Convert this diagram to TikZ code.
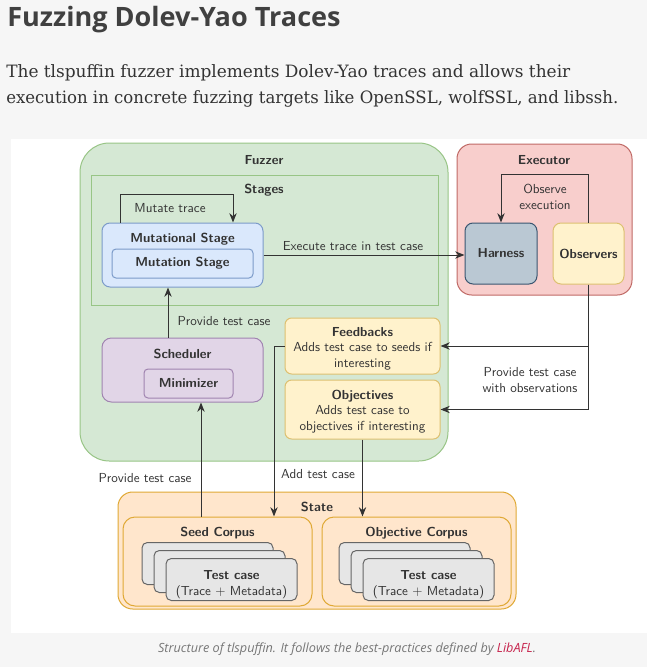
\documentclass[tikz,border=0pt]{standalone}
\usepackage{fontspec}
\usepackage{graphicx}
\usetikzlibrary{arrows.meta}
\newfontfamily\headfont{Open Sans}
\newfontfamily\bodyfont{DejaVu Serif}
\newcommand\figfont{\sffamily\fontsize{9.8}{11.6}\selectfont}

\definecolor{pagebg}{HTML}{F6F6F6}
\definecolor{headc}{HTML}{404040}
\definecolor{bodyc}{HTML}{333333}
\definecolor{capc}{HTML}{777777}
\definecolor{linkc}{HTML}{C7254E}
\definecolor{ink}{HTML}{333333}
\definecolor{fuzzfill}{HTML}{D5E8D4}
\definecolor{fuzzline}{HTML}{98C586}
\definecolor{execfill}{HTML}{F8CECC}
\definecolor{execline}{HTML}{C06A66}
\definecolor{mutfill}{HTML}{DAE8FC}
\definecolor{mutline}{HTML}{7C9BC9}
\definecolor{schedfill}{HTML}{E1D5E7}
\definecolor{schedline}{HTML}{A084B0}
\definecolor{yelfill}{HTML}{FFF2CC}
\definecolor{yelline}{HTML}{DDC070}
\definecolor{statefill}{HTML}{FFE6CC}
\definecolor{stateline}{HTML}{E0A935}
\definecolor{harnfill}{HTML}{BAC8D3}
\definecolor{harnline}{HTML}{3A5670}
\definecolor{cardfill}{HTML}{E6E6E6}
\definecolor{cardline}{HTML}{666666}

\tikzset{
  sz/.style 2 args={minimum width=#1*0.75pt, minimum height=#2*0.75pt},
  box/.style={draw, line width=0.75pt, inner sep=0pt},
  ttl/.style={font=\figfont\bfseries, text=ink, inner sep=0pt},
  txt/.style={font=\figfont, text=ink, inner sep=0pt, align=center},
  card/.style={box, draw=cardline, fill=cardfill, rounded corners=4pt, sz={131}{42}},
  arr/.style={draw=ink, line width=0.75pt, -{Stealth[length=7pt, width=5.5pt]}}
}

\begin{document}
\begin{tikzpicture}[x=0.75pt, y=-0.75pt]
    \useasboundingbox (0,0) rectangle (647,667);
    % Seite
    \fill[pagebg] (0,0) rectangle (647,667);
    \fill[white] (11,139) rectangle (647,633);

    % Ueberschrift und Text
    \node[anchor=base west, inner sep=0pt, text=headc, font=\headfont\bfseries\fontsize{20}{24}\selectfont] (heading) at (7,27)
        {\resizebox{250pt}{\height}{Fuzzing Dolev-Yao Traces}};
    \node[anchor=base west, inner sep=0pt, text=bodyc, font=\bodyfont\fontsize{12.75}{16}\selectfont] (introA) at (6,77)
        {\resizebox{423pt}{\height}{The tlspuffin fuzzer implements Dolev-Yao traces and allows their}};
    \node[anchor=base west, inner sep=0pt, text=bodyc, font=\bodyfont\fontsize{12.75}{16}\selectfont] (introB) at (6,103)
        {\resizebox{459pt}{\height}{execution in concrete fuzzing targets like OpenSSL, wolfSSL, and libssh.}};

    % Fuzzer
    \node[box, draw=fuzzline, fill=fuzzfill, rounded corners=22pt, sz={368}{318}] (fuzzer) at (264,302) {};
    \node[ttl] (fuzzerT) at (264,160) {Fuzzer};
    \node[box, draw=fuzzline, fill=fuzzfill, sz={347}{130}] (stages) at (264.5,240) {};
    \node[ttl] (stagesT) at (264,190) {Stages};
    \node[box, draw=mutline, fill=mutfill, rounded corners=6pt, sz={161}{64}] (mutational) at (182.5,255) {};
    \node[ttl] (mutationalT) at (182.5,239) {Mutational Stage};
    \node[box, draw=mutline, fill=mutfill, rounded corners=3pt, sz={141}{29}, font=\figfont\bfseries, text=ink] (mutation) at (182.5,263.5) {Mutation Stage};

    \node[box, draw=schedline, fill=schedfill, rounded corners=7pt, sz={161}{64}] (scheduler) at (182.5,370) {};
    \node[ttl] (schedulerT) at (182.5,354) {Scheduler};
    \node[box, draw=schedline, fill=schedfill, rounded corners=3pt, sz={89}{29}, font=\figfont\bfseries, text=ink] (minimizer) at (188.5,383.5) {Minimizer};

    \node[box, draw=yelline, fill=yelfill, rounded corners=5pt, sz={155}{56}] (feedbacks) at (362.5,346) {};
    \node[txt] (feedbacksT) at ([yshift=-2pt]feedbacks.center) {\textbf{Feedbacks}\\Adds test case to seeds if\\interesting};
    \node[box, draw=yelline, fill=yelfill, rounded corners=5pt, sz={155}{59}] (objectives) at (362.5,409.5) {};
    \node[txt] (objectivesT) at ([yshift=-1.5pt]objectives.center) {\textbf{Objectives}\\Adds test case to\\objectives if interesting};

    % Executor
    \node[box, draw=execline, fill=execfill, rounded corners=11pt, sz={175}{151}] (executor) at (544.5,219.5) {};
    \node[ttl] (executorT) at (544,160) {Executor};
    \node[box, draw=harnline, fill=harnfill, rounded corners=6pt, sz={72}{61}, font=\figfont\bfseries, text=ink] (harness) at (501,253.5) {Harness};
    \node[box, draw=yelline, fill=yelfill, rounded corners=6pt, sz={71}{61}, font=\figfont\bfseries, text=ink] (observers) at (588.5,253.5) {Observers};

    % State
    \node[box, draw=stateline, fill=statefill, rounded corners=11pt, sz={398}{117}] (state) at (317,550.5) {};
    \node[ttl] (stateT) at (317,507) {State};
    \node[box, draw=stateline, fill=statefill, rounded corners=9pt, sz={189}{89}] (seedcorpus) at (217.5,561.5) {};
    \node[ttl] (seedcorpusT) at (217.5,533) {Seed Corpus};
    \node[box, draw=stateline, fill=statefill, rounded corners=9pt, sz={189}{89}] (objcorpus) at (416.5,561.5) {};
    \node[ttl] (objcorpusT) at (416.5,533) {Objective Corpus};
    \foreach \i in {0,1,2} {
        \node[card] (seedcard\i) at (207.5+12*\i,563.5+8*\i) {};
        \node[card] (objcard\i) at (404.5+12*\i,563.5+8*\i) {};
    }
    \node[txt] at ([yshift=-4pt]seedcard2.center) {\textbf{Test case}\\(Trace + Metadata)};
    \node[txt] at ([yshift=-4pt]objcard2.center) {\textbf{Test case}\\(Trace + Metadata)};

    % Verbindungen
    \draw[arr] (120,0 |- mutational.north) -- ++(0,-28) -| (233,0 |- mutational.north);
    \node[txt] (mutateL) at (170,208) {Mutate trace};
    \draw[arr] (mutational.east) -- (mutational.east -| harness.west);
    \node[txt] (executeL) at (353,246) {Execute trace in test case};
    \draw[arr] (observers.north) -- ++(0,-48) -| (harness.north);
    \node[txt] (observeL) at (545,197) {Observe\\execution};
    \draw[arr] (observers.south) |- (feedbacks.east);
    \draw[arr] (observers.south) |- (objectives.east);
    \node[txt] (withobsL) at (530,380) {Provide test case\\with observations};
    \draw[arr] (168,0 |- scheduler.north) -- (168,0 |- mutational.south);
    \node[txt] (provideL) at (224,321) {Provide test case};
    \draw[arr] (201,0 |- seedcorpus.north) -- (201,0 |- scheduler.south);
    \node[txt] (seedL) at (145,478) {Provide test case};
    \draw[arr] (feedbacks.west) -| (274,0 |- seedcorpus.north);
    \draw[arr] (objectives.south) -- (objectives.south |- objcorpus.north);
    \node[txt] (addL) at (318,474) {Add test case};

    % Bildunterschrift
    \node[inner sep=0pt, text=capc, font=\headfont\itshape\fontsize{9.5}{12}\selectfont] (caption) at (347,649)
        {Structure of tlspuffin. It follows the best-practices defined by \textcolor{linkc}{LibAFL}.};
\end{tikzpicture}
\end{document}
